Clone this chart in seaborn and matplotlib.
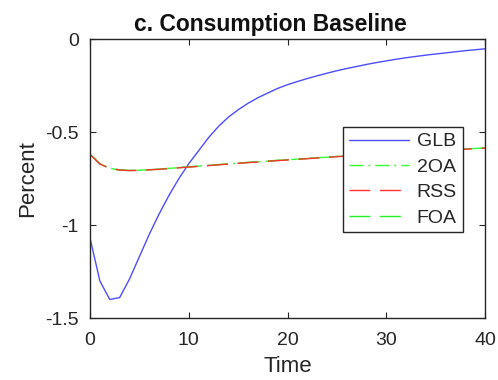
import numpy as np
import pandas as pd
import seaborn as sns
import matplotlib
matplotlib.use("Agg")
import matplotlib.pyplot as plt

# Impulse responses of consumption (percent deviation from baseline)
time = list(range(41))

glb = [-1.07, -1.30, -1.40, -1.39, -1.29, -1.17, -1.05, -0.94, -0.84, -0.75,
       -0.67, -0.60, -0.53, -0.47, -0.42, -0.38, -0.345, -0.315, -0.29, -0.265,
       -0.245, -0.228, -0.212, -0.197, -0.183, -0.170, -0.158, -0.147, -0.136, -0.126,
       -0.117, -0.108, -0.100, -0.093, -0.086, -0.080, -0.074, -0.068, -0.062, -0.057,
       -0.052]

oa2 = [-0.620, -0.670, -0.695, -0.703, -0.706, -0.705, -0.702, -0.699, -0.695, -0.691,
       -0.687, -0.683, -0.679, -0.675, -0.671, -0.667, -0.663, -0.660, -0.656, -0.652,
       -0.649, -0.645, -0.642, -0.638, -0.635, -0.631, -0.628, -0.625, -0.621, -0.618,
       -0.615, -0.612, -0.609, -0.606, -0.603, -0.600, -0.597, -0.594, -0.591, -0.588,
       -0.585]

rss = [-0.620, -0.671, -0.696, -0.704, -0.707, -0.706, -0.703, -0.700, -0.696, -0.692,
       -0.688, -0.684, -0.680, -0.676, -0.672, -0.668, -0.664, -0.661, -0.657, -0.653,
       -0.650, -0.646, -0.643, -0.639, -0.636, -0.632, -0.629, -0.626, -0.622, -0.619,
       -0.616, -0.613, -0.610, -0.607, -0.604, -0.601, -0.598, -0.595, -0.592, -0.589,
       -0.586]

foa = [-0.620, -0.670, -0.695, -0.703, -0.706, -0.705, -0.702, -0.699, -0.695, -0.691,
       -0.687, -0.683, -0.679, -0.675, -0.671, -0.667, -0.663, -0.660, -0.656, -0.652,
       -0.649, -0.645, -0.642, -0.638, -0.635, -0.631, -0.628, -0.625, -0.621, -0.618,
       -0.615, -0.612, -0.609, -0.606, -0.603, -0.600, -0.597, -0.594, -0.591, -0.588,
       -0.585]

x_ticks = [0, 10, 20, 30, 40]
y_ticks = [-1.5, -1, -0.5, 0]
y_tick_labels = ["-1.5", "-1", "-0.5", "0"]

sns.set_theme(style="white")
plt.rcParams["font.family"] = ["Liberation Sans", "DejaVu Sans"]

text_color = "#262626"

fig = plt.figure(figsize=(4.98, 3.8), dpi=100)
ax = fig.add_axes([0.1807, 0.163, 0.7933, 0.734])

# (label, values, colour, dash style, drawing order)
series = [
    ("GLB", glb, "#4d4dff", "-", 2.0),
    ("2OA", oa2, "#33ff33", (0, (10, 3.6, 1.4, 3.6)), 2.1),
    ("RSS", rss, "#ff3030", (0, (15, 7)), 2.3),
    ("FOA", foa, "#22f022", (0, (15, 7)), 2.2),
]
for name, vals, color, style, z in series:
    sns.lineplot(x=time, y=vals, ax=ax, color=color, linewidth=1.0,
                 linestyle=style, label=name, zorder=z)

ax.set_xlim(0, 40)
ax.set_ylim(-1.5, 0)
ax.set_xticks(x_ticks)
ax.set_xticklabels([str(v) for v in x_ticks])
ax.set_yticks(y_ticks)
ax.set_yticklabels(y_tick_labels)

for side in ["left", "right", "top", "bottom"]:
    ax.spines[side].set_visible(True)
    ax.spines[side].set_color(text_color)
    ax.spines[side].set_linewidth(1.0)

ax.tick_params(axis="both", which="major", direction="in", length=4, width=0.8,
               color=text_color, labelcolor=text_color, labelsize=14,
               top=True, right=True, bottom=True, left=True)
ax.tick_params(axis="x", pad=10)
ax.tick_params(axis="y", pad=8)

ax.set_xlabel("Time", fontsize=16, color=text_color, labelpad=5)
ax.set_ylabel("Percent", fontsize=16, color=text_color, labelpad=5)
ax.set_title("c. Consumption Baseline", fontsize=16.5, fontweight="bold",
             color="#111111", pad=6, x=0.456)

leg = ax.legend(loc="upper left", bbox_to_anchor=(0.640, 0.685),
                fontsize=14, frameon=True, fancybox=False, shadow=False,
                handlelength=3.1, handletextpad=0.4, labelspacing=0.40,
                borderpad=0.3, borderaxespad=0.0)
leg.set_zorder(5)
leg.get_frame().set_edgecolor(text_color)
leg.get_frame().set_linewidth(1.0)
leg.get_frame().set_facecolor("white")
leg.get_frame().set_alpha(1.0)
for t in leg.get_texts():
    t.set_color(text_color)

fig.savefig("out.png", dpi=100, facecolor="white")
